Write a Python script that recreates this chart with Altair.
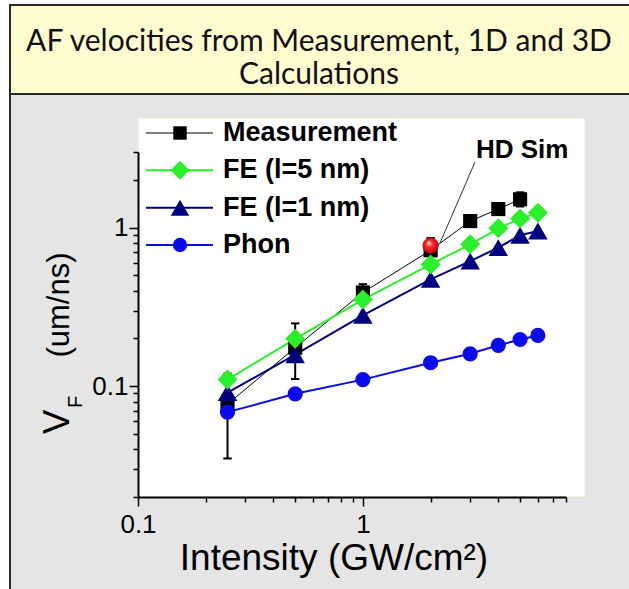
import altair as alt
import pandas as pd

# ---------------- data ----------------
intensity = [0.25, 0.5, 1, 2, 3, 4, 5, 6]
meas_x = [0.25, 0.5, 1, 2, 3, 4, 5]
meas_v = [0.077, 0.175, 0.39, 0.72, 1.10, 1.31, 1.51]
meas_lo = [0.035, 0.111, 0.34, 0.60, 1.05, 1.26, 1.36]
meas_hi = [0.12, 0.249, 0.44, 0.86, 1.15, 1.36, 1.67]
fe5_v = [0.110, 0.199, 0.352, 0.586, 0.785, 0.99, 1.14, 1.24]
fe1_v = [0.091, 0.158, 0.28, 0.472, 0.615, 0.748, 0.895, 0.953]
phon_v = [0.0686, 0.0895, 0.110, 0.1406, 0.160, 0.181, 0.197, 0.209]
hd_x = [2]
hd_v = [0.77]
series_names = ["Measurement", "FE (l=5 nm)", "FE (l=1 nm)", "Phon"]

x_ticks = [0.1, 0.2, 0.3, 0.4, 0.5, 0.6, 0.7, 0.8, 0.9, 1, 2, 3, 4, 5, 6, 7, 8]
y_ticks = [0.02, 0.03, 0.04, 0.05, 0.06, 0.07, 0.08, 0.09, 0.1,
           0.2, 0.3, 0.4, 0.5, 0.6, 0.7, 0.8, 0.9, 1, 2, 3]

title_lines = ["AF velocities from Measurement, 1D and 3D", "Calculations"]

# ---------------- styles ----------------
COL = {"Measurement": "#000000", "FE (l=5 nm)": "#2AF02A",
       "FE (l=1 nm)": "#000080", "Phon": "#0A0AF0"}
SHP = {"Measurement": "square", "FE (l=5 nm)": "diamond",
       "FE (l=1 nm)": "triangle-up", "Phon": "circle"}
SIZ = {"Measurement": 200, "FE (l=5 nm)": 400, "FE (l=1 nm)": 380, "Phon": 230}
LW = {"Measurement": 1, "FE (l=5 nm)": 2, "FE (l=1 nm)": 2, "Phon": 2}

xs = alt.Scale(type="log", domain=[0.1, 8], nice=False)
ys = alt.Scale(type="log", domain=[0.02, 3], nice=False)


def mk_axis(vals, pad):
    return alt.Axis(
        values=vals,
        labelExpr="datum.value == 0.1 ? '0.1' : (datum.value == 1 ? '1' : '')",
        tickSize={"condition": {"test": "datum.value == 0.1 || datum.value == 1", "value": 9}, "value": 5},
        tickColor="black", tickWidth=1.5, domainColor="black", domainWidth=2,
        labelFont="Liberation Sans", labelFontSize=26, labelColor="black", labelPadding=pad,
        labelOverlap=False, labelBound=False, labelFlush=False, grid=False, title=None,
        zindex=1)


XA = mk_axis(x_ticks, 5)
YA = mk_axis(y_ticks, 1)


def X(field="x"):
    return alt.X(f"{field}:Q", scale=xs, axis=XA)


def Y(field="y"):
    return alt.Y(f"{field}:Q", scale=ys, axis=YA)


series_data = {
    "Measurement": (meas_x, meas_v),
    "FE (l=5 nm)": (intensity, fe5_v),
    "FE (l=1 nm)": (intensity, fe1_v),
    "Phon": (intensity, phon_v),
}

layers = []
for name in ["Measurement", "FE (l=1 nm)", "FE (l=5 nm)", "Phon"]:
    xv, yv = series_data[name]
    df = pd.DataFrame({"x": xv, "y": yv})
    layers.append(alt.Chart(df).mark_line(color=COL[name], strokeWidth=LW[name]).encode(x=X(), y=Y()))

err_df = pd.DataFrame({"x": meas_x, "lo": meas_lo, "hi": meas_hi})
layers.append(alt.Chart(err_df).mark_rule(color="black", strokeWidth=2).encode(
    x=X(), y=Y("lo"), y2="hi:Q"))
for f in ["lo", "hi"]:
    layers.append(alt.Chart(err_df).mark_point(shape="M-1,0L1,0", size=70, color="black",
                                               strokeWidth=2, filled=False, opacity=1).encode(x=X(), y=Y(f)))

for name in ["Measurement", "FE (l=1 nm)", "FE (l=5 nm)", "Phon"]:
    xv, yv = series_data[name]
    df = pd.DataFrame({"x": xv, "y": yv})
    layers.append(alt.Chart(df).mark_point(shape=SHP[name], size=SIZ[name], color=COL[name],
                                           filled=True, opacity=1, strokeWidth=0).encode(x=X(), y=Y()))

hd_df = pd.DataFrame({"x": hd_x, "y": hd_v})
red_grad = {"gradient": "radial", "x1": 0.38, "y1": 0.32, "r1": 0.02,
            "x2": 0.5, "y2": 0.5, "r2": 0.55,
            "stops": [{"offset": 0, "color": "#ffd6d6"}, {"offset": 0.35, "color": "#ff2a2a"},
                      {"offset": 1, "color": "#b00000"}]}
layers.append(alt.Chart(hd_df).mark_point(shape="circle", size=260, fill=red_grad, filled=True,
                                          opacity=1, strokeWidth=0).encode(x=X(), y=Y()))

main = alt.layer(*layers)

# ---------------- decorations (background, titles, annotation) ----------------
one = pd.DataFrame({"a": [0]})


def box(x, x2, y, y2, **kw):
    return alt.Chart(one).mark_rect(**kw).encode(
        x=alt.value(x), x2=alt.value(x2), y=alt.value(y), y2=alt.value(y2))


def txt(s, x, y, **kw):
    return alt.Chart(one).mark_text(text=s, **kw).encode(x=alt.value(x), y=alt.value(y))


def seg(x, x2, y, y2, **kw):
    return alt.Chart(one).mark_rule(**kw).encode(
        x=alt.value(x), x2=alt.value(x2), y=alt.value(y), y2=alt.value(y2))


decor = alt.layer(
    box(-128, 495, -58, 440, color="#E5E5E5"),
    box(-128, 495, -147, -58, color="#FFFCD0", stroke="#2b2b2b", strokeWidth=2),
    seg(-128, -128, -58, 440, color="#2b2b2b", strokeWidth=2),
    box(0, 447, -34, 345, color="white", stroke="#EFE8CF", strokeWidth=1),
    txt(title_lines[0], 181, -101, font="Lato", fontSize=30, color="#111", baseline="alphabetic", align="center"),
    txt(title_lines[1], 181, -68, font="Lato", fontSize=30, color="#111", baseline="alphabetic", align="center"),
    txt("(um/ns)", -78, 153, font="Liberation Sans", fontSize=31, angle=270, color="black",
        baseline="middle", align="center"),
    txt("V", -80, 270, font="Liberation Sans", fontSize=37, angle=270, color="black",
        baseline="middle", align="center"),
    txt("F", -62, 250, font="Liberation Sans", fontSize=20, angle=270, color="black",
        baseline="middle", align="center"),
    txt("Intensity (GW/cm²)", 196, 418, font="Liberation Sans", fontSize=37, color="black",
        baseline="alphabetic", align="center"),
)

annot = alt.layer(
    seg(337, 302, 10, 91, color="#333", strokeWidth=1),
    txt("HD Sim", 338, 6, font="Liberation Sans", fontSize=26, fontWeight="bold", color="black",
        baseline="alphabetic", align="left"),
)

# ---------------- manual legend ----------------
leg_y = alt.Scale(domain=[0, 3], range=[-19, 93])
leg_layers = []
for i, name in enumerate(series_names):
    d = pd.DataFrame({"row": [i], "label": [name]})
    Yl = alt.Y("row:Q", scale=leg_y, axis=None)
    leg_layers.append(alt.Chart(d).mark_rule(color=COL[name], strokeWidth=LW[name]).encode(
        x=alt.value(8), x2=alt.value(75), y=Yl))
    leg_layers.append(alt.Chart(d).mark_point(shape=SHP[name], size=SIZ[name] * 0.9, color=COL[name],
                                              filled=True, opacity=1, strokeWidth=0).encode(
        x=alt.value(42), y=Yl))
    leg_layers.append(alt.Chart(d).mark_text(font="Liberation Sans", fontSize=27, fontWeight="bold",
                                             color="black", align="left", baseline="middle").encode(
        x=alt.value(85), y=Yl, text="label:N"))
legend = alt.layer(*leg_layers)

chart = alt.layer(decor, main, annot, legend).resolve_scale(
    x="independent", y="independent"
).properties(
    width=428, height=345,
    padding={"left": 138, "top": 152, "right": 63, "bottom": 92},
    autosize=alt.AutoSizeParams(type="none"),
    background="white",
).configure_view(strokeWidth=0)

chart.save("out.html", embed_options={"renderer": "svg", "actions": False})
